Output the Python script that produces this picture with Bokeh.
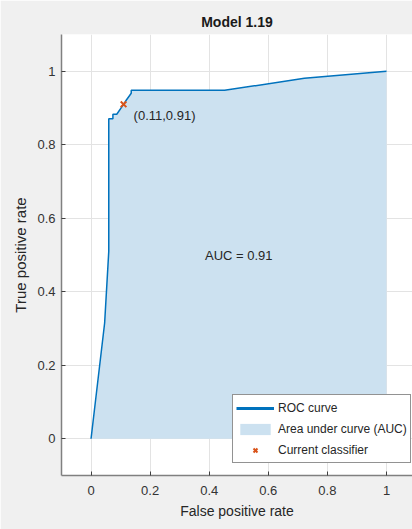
from bokeh.plotting import figure
from bokeh.models import Legend, LegendItem, Label, Range1d, FixedTicker
from bokeh.embed import file_html
from bokeh.resources import INLINE

# ROC curve points (false positive rate, true positive rate)
fpr = [0.0, 0.046, 0.060, 0.060, 0.074, 0.074, 0.087, 0.110, 0.119, 0.136, 0.136, 0.452, 0.722, 1.0]
tpr = [0.0, 0.315, 0.510, 0.871, 0.871, 0.883, 0.883, 0.910, 0.921, 0.940, 0.948, 0.948, 0.981, 1.0]

# Operating point of the current classifier
op_fpr = [0.11]
op_tpr = [0.91]
auc_value = 0.91
model_name = "Model 1.19"

x_ticks = [0, 0.2, 0.4, 0.6, 0.8, 1]
y_ticks = [0, 0.2, 0.4, 0.6, 0.8, 1]

FONT = "Liberation Sans"
BLUE = "#0072BD"
AREA = "#CCE1F0"
ORANGE = "#D95319"
TEXT = "#262626"

p = figure(width=412, height=529, output_backend="svg", toolbar_location=None,
           x_range=Range1d(-0.1, 1.088), y_range=Range1d(-0.1, 1.1),
           min_border_left=61, min_border_right=0, min_border_top=34,
           min_border_bottom=54)

p.border_fill_color = "#f0f0f0"
p.background_fill_color = "white"
p.outline_line_color = None

p.title.text = model_name
p.title.align = "center"
p.title.text_font = FONT
p.title.text_font_size = "14px"
p.title.text_font_style = "bold"
p.title.text_color = "#1a1a1a"

# Area under the curve, then the curve itself
area = p.varea(x=fpr, y1=[0] * len(fpr), y2=tpr, fill_color=AREA, fill_alpha=1.0)
p.line(x=fpr, y=tpr, line_color=BLUE, line_width=1.5)
op = p.scatter(x=op_fpr, y=op_tpr, marker="x", size=8, line_color=ORANGE, line_width=2)

# legend key for the curve: a heavier stroke that draws nothing in the frame
roc_key = p.line(x=[float("nan")], y=[float("nan")], line_color=BLUE, line_width=3)

p.add_layout(Label(x=op_fpr[0] + 0.034, y=op_tpr[0] - 0.03, text="(%.2f,%.2f)" % (op_fpr[0], op_tpr[0]),
                   text_font=FONT, text_font_size="13px", text_color=TEXT,
                   text_baseline="middle", text_align="left"))
p.add_layout(Label(x=0.5, y=0.5, text="AUC = %.2f" % auc_value,
                   text_font=FONT, text_font_size="13px", text_color=TEXT,
                   text_baseline="middle", text_align="center"))

for ax, ticks in ((p.xaxis, x_ticks), (p.yaxis, y_ticks)):
    ax.ticker = FixedTicker(ticks=ticks)
    ax.major_label_overrides = {t: ("%g" % t) for t in ticks}
    ax.axis_line_color = "#808080"
    ax.axis_line_width = 1.5
    ax.major_tick_in = 4
    ax.major_tick_out = 0
    ax.major_tick_line_color = "#404040"
    ax.minor_tick_line_color = None
    ax.major_label_text_font = FONT
    ax.major_label_text_font_size = "13px"
    ax.major_label_text_color = "#333333"
    ax.axis_label_text_font = FONT
    ax.axis_label_text_font_size = "14px"
    ax.axis_label_text_font_style = "normal"
    ax.axis_label_text_color = TEXT

p.xaxis.axis_label = "False positive rate"
p.yaxis.axis_label = "True positive rate"
p.yaxis.axis_label_text_font_size = "15px"
p.xaxis.major_label_standoff = 10
p.yaxis.major_label_standoff = 6
p.xaxis.axis_label_standoff = 5
p.yaxis.axis_label_standoff = 5

p.grid.grid_line_color = "#e3e3e3"
p.grid.grid_line_width = 1
p.xgrid.ticker = FixedTicker(ticks=x_ticks)
p.ygrid.ticker = FixedTicker(ticks=y_ticks)

legend = Legend(items=[
    LegendItem(label="ROC curve", renderers=[roc_key]),
    LegendItem(label="Area under curve (AUC)", renderers=[area]),
    LegendItem(label="Current classifier", renderers=[op]),
], location=(171, 12))
legend.label_text_font = FONT
legend.label_text_font_size = "12px"
legend.label_text_color = TEXT
legend.border_line_color = "#262626"
legend.border_line_width = 1
legend.background_fill_alpha = 1.0
legend.glyph_width = 38
legend.glyph_height = 14
legend.label_height = 19
legend.label_standoff = 4
legend.spacing = 2
legend.padding = 3
legend.margin = 0
p.add_layout(legend)

open("out.html", "w").write(file_html(p, INLINE))
